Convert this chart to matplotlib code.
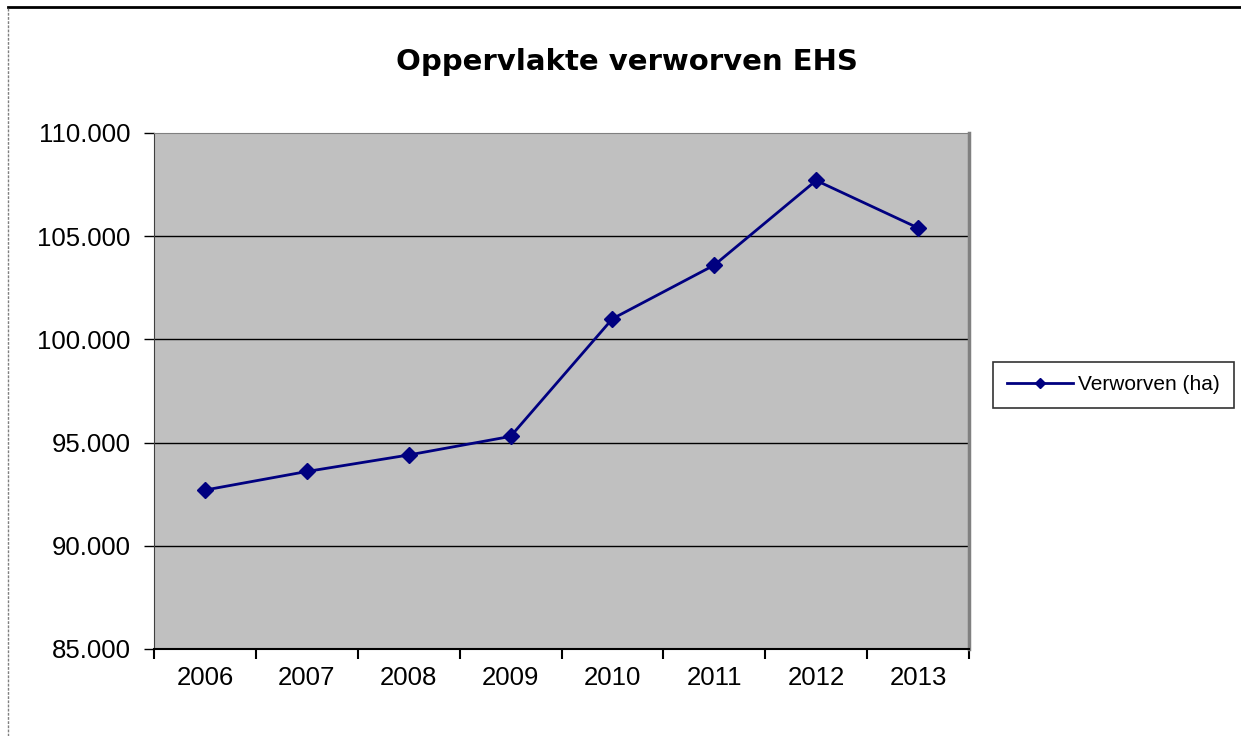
import numpy as np
import matplotlib
matplotlib.use("Agg")
from matplotlib import pyplot as plt
from matplotlib.lines import Line2D

# Gegevens
jaren = ["2006", "2007", "2008", "2009", "2010", "2011", "2012", "2013"]
verworven = [92700, 93600, 94400, 95300, 101000, 103600, 107700, 105400]
y_ticks = [85000, 90000, 95000, 100000, 105000, 110000]
y_labels = ["85.000", "90.000", "95.000", "100.000", "105.000", "110.000"]

plt.rcParams['font.family'] = ['Liberation Sans', 'DejaVu Sans']

fig = plt.figure(figsize=(12.41, 7.36), dpi=100)
ax = fig.add_axes([154 / 1241, 1 - 649 / 736, 815 / 1241, 516 / 736])
ax.set_facecolor("#c0c0c0")

x = np.arange(1, len(jaren) + 1)
ax.plot(x, verworven, color="#000080", linewidth=2, marker="D", markersize=8,
        label="Verworven (ha)")

ax.set_xlim(0.5, len(jaren) + 0.5)
ax.set_ylim(85000, 110000)

# y-as
ax.set_yticks(y_ticks)
ax.set_yticklabels(y_labels, fontsize=18.5)
for v in y_ticks[1:-1]:
    ax.axhline(v, color="black", linewidth=1.0, zorder=1)

# x-as: streepjes tussen de categorieen, labels in het midden
ax.set_xticks(np.arange(0.5, len(jaren) + 1, 1))
ax.set_xticklabels([])
ax.set_xticks(x, minor=True)
ax.set_xticklabels(jaren, minor=True, fontsize=18.5)
ax.tick_params(axis="x", which="minor", length=0, pad=12)
ax.tick_params(axis="x", which="major", length=7, width=1.5, direction="out")
ax.tick_params(axis="y", length=7, width=1, direction="out", pad=10)

ax.spines["left"].set_color("#404040")
ax.spines["bottom"].set_color("black")
ax.spines["bottom"].set_linewidth(1.5)
ax.spines["top"].set_color("#808080")
ax.spines["right"].set_color("#808080")
ax.spines["right"].set_linewidth(2.5)

fig.text(627 / 1241, 1 - 62 / 736, "Oppervlakte verworven EHS", ha="center",
         va="center", fontsize=21, fontweight="bold", family="DejaVu Sans")

leg = ax.legend(loc="center left", bbox_to_anchor=(993 / 1241, 1 - 385 / 736),
                bbox_transform=fig.transFigure, fontsize=15, frameon=True,
                fancybox=False, handlelength=3.2, borderpad=0.65, borderaxespad=0,
                markerscale=0.7, handletextpad=0.25)
leg.get_frame().set_edgecolor("black")
leg.get_frame().set_linewidth(1.2)

# kader rond de grafiek
fig.add_artist(Line2D([8 / 1241, 1], [1 - 7 / 736, 1 - 7 / 736],
                      transform=fig.transFigure, color="black", linewidth=2))
fig.add_artist(Line2D([8 / 1241, 8 / 1241], [0, 1 - 7 / 736],
                      transform=fig.transFigure, color="#808080",
                      linewidth=1, linestyle=(0, (2, 1))))

fig.savefig("out.png", dpi=100)
